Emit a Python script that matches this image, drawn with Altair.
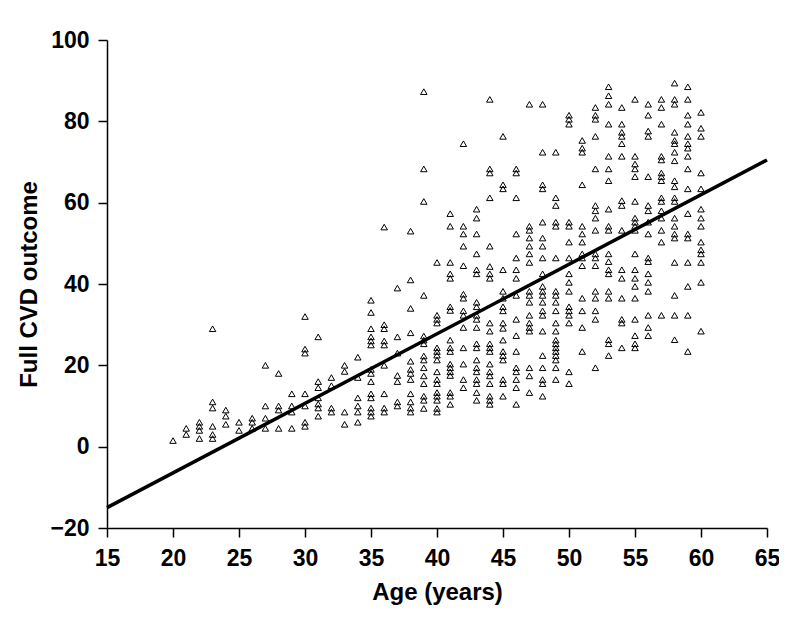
import altair as alt
import pandas as pd

# CVD outcome values per age column
a20 = [1.5]
a21 = [4.5, 3]
a22 = [6, 5, 4, 2]
a23 = [29, 11, 9.5, 5, 3, 2]
a24 = [9, 7.5, 5.5]
a25 = [6, 4]
a26 = [7, 6, 4.5]
a27 = [20, 10, 7, 4.5]
a28 = [18, 10, 9, 4.5]
a29 = [13, 10, 8.5, 4.5]
a30 = [32, 24, 23, 13, 10, 6, 5]
a31 = [27, 16, 14.5, 12, 10.5, 9.5, 7.5]
a32 = [17, 15, 9.5, 8.5]
a33 = [20, 18.5, 8.5, 5.5]
a34 = [22, 17, 12, 10, 8.5, 6]
a35 = [36, 33, 29, 27, 26, 25, 19, 18, 16, 13, 12, 9.5, 8.5, 7.5]
a36 = [54, 30, 29, 26, 25, 20, 13, 9.5, 8.5]
a37 = [39, 27, 23, 17.5, 16, 11, 10]
a38 = [53, 41, 34, 28, 21, 19, 18, 16.5, 13, 11, 9.5, 8.5]
a39 = [87.3, 68.3, 60.3, 37.2, 27.2, 26.2, 25.3, 22.3, 21.3, 19.4, 17.4, 15.5, 12.4, 11.4, 9.4]
a40 = [45.3, 32.3, 31.3, 30.4, 24.3, 23.4, 22.5, 21.3, 18.4, 16.5, 15.5, 13.3, 12.4, 11.4, 9.4, 8.5]
a41 = [57.3, 54.2, 45.3, 42.5, 41.4, 34.4, 33.5, 26.2, 24.3, 23.4, 20.3, 19.4, 18.4, 17.5, 13.3, 12.4, 10.4]
a42 = [74.5, 54.2, 52.3, 49.3, 44.5, 37.5, 36.5, 33.4, 32.3, 29.3, 24.3, 20.3, 16.5, 14.5]
a43 = [58.4, 56.2, 52.3, 47.4, 43.5, 42.5, 35.5, 34.4, 32.3, 31.3, 29.3, 25.3, 24.3, 21.3, 19.4, 18.4,
       16.5, 15.5, 13.3, 11.4]
a44 = [85.4, 68.3, 67.3, 61.2, 49.3, 44.3, 42.5, 41.4, 30.4, 28.4, 25.3, 24.3, 23.4, 20.3, 18.4, 17.4,
       15.5, 12.4, 11.4, 10.4]
a45 = [76.3, 64.4, 63.4, 43.5, 38.2, 36.5, 34.4, 33.4, 30.4, 29.1, 26.2, 23.4, 22.4, 21.3, 16.5, 15.5, 12.4]
a46 = [68.3, 67.3, 61.2, 52.3, 46.4, 43.5, 41.4, 37.2, 31.3, 27.3, 23.4, 19.4, 18.4, 16.5, 14.5, 10.4]
a47 = [84.2, 54.2, 53.2, 51.3, 49.3, 47.4, 45.3, 38.2, 37.2, 35.5, 32.3, 30.4, 29.3, 28.4, 19.4, 17.4, 13.3]
a48 = [84.2, 72.4, 64.4, 63.4, 55.2, 51.3, 49.3, 46.4, 42.5, 39.4, 38.2, 37.2, 35.5, 33.4, 32.3, 28.4,
       22.4, 19.4, 16.5, 15.5, 12.4]
a49 = [72.4, 61.2, 59.3, 55.2, 54.2, 46.4, 38.2, 37.2, 35.5, 33.4, 30.4, 28.4, 26.2, 25.3, 24.3, 23.4,
       22.4, 21.3, 19.4, 16.5]
a50 = [81.5, 80.5, 79.3, 55.2, 54.2, 50.3, 46.4, 42.5, 40.4, 38.2, 34.4, 33.4, 32.3, 30.4, 18.4, 15.5]
a51 = [75.3, 73.4, 72.4, 64.4, 54.2, 52.3, 50.3, 47.4, 46.4, 44.5, 36.5, 33.4, 29.3, 23.4]
a52 = [83.4, 81.5, 80.5, 76.3, 68.3, 59.3, 58, 56.2, 53.2, 47.4, 46.4, 44.5, 38.2, 36.5, 33.4, 31.3, 19.4]
a53 = [88.5, 86.3, 84.2, 79.3, 71.4, 68.3, 65.4, 58.4, 54.2, 53.2, 47.4, 45.5, 43.5, 42.5, 38.2, 36.5,
       26.3, 25.3, 22.4]
a54 = [83.4, 79.3, 77.3, 76.3, 74.5, 71.4, 60.5, 59.3, 53.2, 43.5, 41.4, 36.5, 31.3, 30.4, 24.3]
a55 = [85.4, 71.4, 69.5, 68.3, 66.4, 60.3, 56.2, 55.2, 54.2, 53.2, 47.4, 43.5, 41.4, 39.4, 36.5, 31.3,
       27.3, 25.3, 24.3]
a56 = [84.2, 81.5, 77.6, 76.3, 66.4, 59.3, 58, 55.2, 52.3, 46.4, 45.5, 42.5, 40.4, 38.2, 32.3, 29.3, 27.3]
a57 = [85.4, 83.4, 79.3, 71.4, 70.5, 67.3, 66.4, 65.4, 61.2, 60.3, 58, 56.2, 53.2, 50.3, 32.3]
a58 = [89.4, 85.4, 84.2, 77.3, 75.3, 74.5, 72.4, 70.3, 65.4, 63.9, 61.2, 60.3, 56.2, 54.2, 52.3, 51.3,
       45.3, 37.2, 32.3, 26.3]
a59 = [88.5, 85.4, 81.5, 79.3, 76.3, 74.5, 73.4, 71.4, 68.3, 63.4, 57.3, 52.3, 51.3, 45.3, 39.4, 32.3, 23.4]
a60 = [82.2, 78.3, 76.3, 67.3, 63.4, 58.4, 56.2, 54.2, 50.3, 48.4, 47.4, 45.3, 40.4, 28.4]

columns = [a20, a21, a22, a23, a24, a25, a26, a27, a28, a29, a30, a31, a32, a33, a34, a35, a36, a37,
           a38, a39, a40, a41, a42, a43, a44, a45, a46, a47, a48, a49, a50, a51, a52, a53, a54, a55,
           a56, a57, a58, a59, a60]
ages = list(range(20, 61))

# fitted line end points
line_age = [15, 65]
line_cvd = [-15, 70.5]

rows = [{"age": a, "cvd": v} for a, vals in zip(ages, columns) for v in vals]
pts = pd.DataFrame(rows)
line_df = pd.DataFrame({"age": line_age, "cvd": line_cvd})

FONT = "Liberation Sans"

x = alt.X("age:Q", scale=alt.Scale(domain=[15, 65], nice=False, zero=False),
          axis=alt.Axis(title="Age (years)", values=list(range(15, 70, 5))))
y = alt.Y("cvd:Q", scale=alt.Scale(domain=[-20, 100], nice=False, zero=False),
          axis=alt.Axis(title="Full CVD outcome", values=list(range(-20, 120, 20))))

points = alt.Chart(pts).mark_point(
    shape="triangle-up", filled=False, color="black", size=42, strokeWidth=1.0, opacity=1
).encode(x=x, y=y)

line = alt.Chart(line_df).mark_line(color="black", strokeWidth=3.5).encode(x=x, y=y)

chart = alt.layer(points, line).properties(
    width=660, height=488,
    autosize=alt.AutoSizeParams(type="none"),
    padding={"left": 99, "top": 32, "right": 12, "bottom": 80},
    background="white",
).configure_view(stroke=None).configure_axis(
    grid=False, labelFlush=False, labelOverlap=False,
    domainColor="black", domainWidth=1.5,
    tickColor="black", tickWidth=1.5, tickSize=9,
    labelFont=FONT, labelFontSize=23, labelFontWeight="bold", labelColor="black",
    titleFont=FONT, titleFontSize=24, titleFontWeight="bold", titleColor="black",
).configure_axisY(titlePadding=8, labelPadding=9).configure_axisX(titlePadding=10, labelPadding=10)

chart.save("out.html", embed_options={"renderer": "svg", "actions": False})
